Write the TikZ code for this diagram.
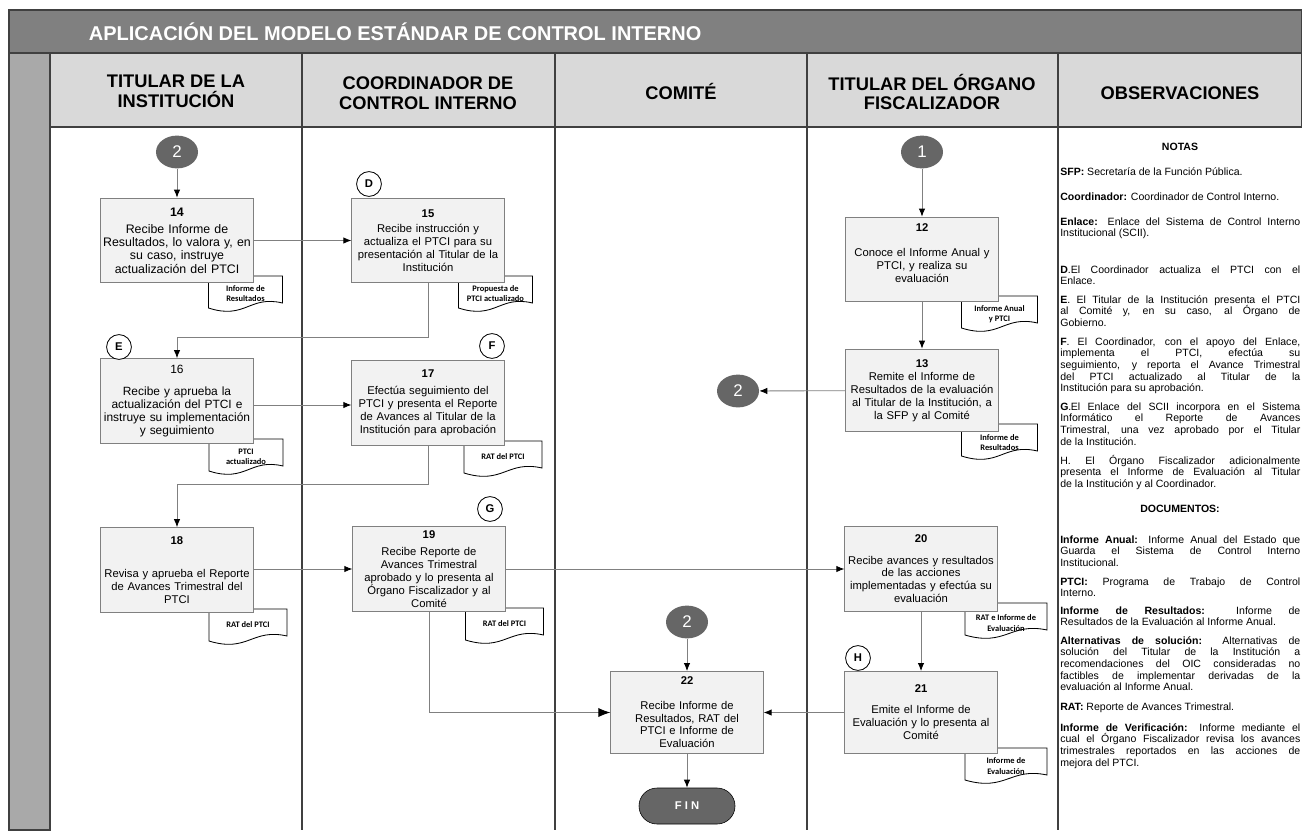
\documentclass[tikz,border=0pt]{standalone}
\usepackage{fontspec}
\setmainfont{Liberation Sans}
\newfontfamily\docfont{Carlito}
\usepackage{tikz}
\usetikzlibrary{arrows.meta,shapes.geometric,positioning,calc}

\definecolor{barGray}{HTML}{808080}
\definecolor{headGray}{HTML}{D9D9D9}
\definecolor{stripGray}{HTML}{A9A9A9}
\definecolor{boxGray}{HTML}{F2F2F2}
\definecolor{lineGray}{HTML}{808080}
\definecolor{darkGray}{HTML}{666666}
\definecolor{ruleGray}{HTML}{404040}

\tikzset{
  proc/.style={draw=lineGray, fill=boxGray, line width=0.6pt, minimum width=3.8cm, minimum height=2.12cm, text width=3.74cm, align=center, inner sep=1pt, font=\fontsize{8}{9.2}\selectfont},
  conn/.style={ellipse, fill=darkGray, text=white, minimum width=1.05cm, minimum height=0.82cm, inner sep=0pt, font=\fontsize{12}{12}\selectfont},
  letra/.style={circle, draw=black, fill=white, line width=0.6pt, minimum size=0.62cm, inner sep=0pt, font=\bfseries\fontsize{8}{8}\selectfont},
  doctxt/.style={align=center, inner sep=0pt, font=\docfont\bfseries\fontsize{6}{7.2}\selectfont},
  docline/.style={draw=black, fill=white, line width=0.6pt},
  flow/.style={draw=lineGray, line width=0.6pt, -{Latex[color=black,length=2mm,width=1.6mm]}},
  bigflow/.style={draw=lineGray, line width=0.6pt, -{Latex[color=black,length=3mm,width=2.3mm]}},
  note/.style={anchor=base west, text width=6cm, align=justify, inner sep=0pt, font=\fontsize{7.5}{8.3}\selectfont},
  colhead/.style={align=center, font=\bfseries\fontsize{13}{14}\selectfont},
  terminal/.style={draw=black, fill=darkGray, text=white, rounded corners=0.45cm, minimum width=2.4cm, minimum height=0.9cm, font=\bfseries\fontsize{8}{8}\selectfont}
}

\begin{document}
\begin{tikzpicture}[x=0.025cm, y=-0.025cm]

\useasboundingbox (0,0) rectangle (1302,830);

% frame and lanes
\draw[draw=ruleGray, fill=barGray, line width=0.8pt] (9,10) rectangle (1302,53);
\draw[draw=ruleGray, fill=headGray, line width=0.8pt] (50,53) rectangle (1302,127);
\draw[draw=ruleGray, fill=stripGray, line width=0.8pt] (9,53) rectangle (50,830);
\foreach \x in {302,555,807,1058}
  \draw[ruleGray, line width=0.9pt] (\x,53) -- (\x,830);

\node[anchor=west, text=white, font=\bfseries\fontsize{14.2}{14.2}\selectfont] (titulo) at (84,32) {APLICACIÓN DEL MODELO ESTÁNDAR DE CONTROL INTERNO};

\node[colhead] (h1) at (176,91) {TITULAR DE LA\\INSTITUCIÓN};
\node[colhead] (h2) at (428,93) {COORDINADOR DE\\CONTROL INTERNO};
\node[colhead] (h3) at (681,91) {COMITÉ};
\node[colhead] (h4) at (932,92) {TITULAR DEL ÓRGANO\\FISCALIZADOR};
\node[colhead] (h5) at (1180,93) {OBSERVACIONES};

% documents (drawn first, the boxes sit on top of them)
\foreach \nm/\cx/\ty/\w/\dy/\txt in {
  d14/245.5/276/74/18/{Informe de\\Resultados},
  d15/495.5/276/74/18/{Propuesta de\\PTCI actualizado},
  d16/246/439/74/18/{PTCI\\actualizado},
  d17/503/441/78/16/{RAT del PTCI},
  d18/248/609/78/16/{RAT del PTCI},
  d19/504.5/608/78/16/{RAT del PTCI},
  d12/999.5/296/76/18/{Informe Anual\\y PTCI},
  d13/999.5/424/76/18.5/{Informe de\\Resultados},
  d20/1006/603/82/20/{RAT e Informe de\\Evaluación},
  d21/1006/748/82/18/{Informe de\\Evaluación}}{
  \draw[docline] (\cx-\w/2,\ty) -- (\cx+\w/2,\ty) -- (\cx+\w/2,\ty+27)
    .. controls +(-0.45*\w,-8) and +(0.5*\w,12) .. (\cx-\w/2,\ty+32) -- cycle;
  \node[doctxt] (\nm) at (\cx,\ty+\dy) {\txt};
}

% activities
\node[proc, font=\fontsize{8.8}{9.5}\selectfont] (b14) at (177,240.5) {\textbf{14}\\[2.5pt]Recibe Informe de\\Resultados, lo valora y, en\\su caso, instruye\\actualización del PTCI};
\node[proc] (b15) at (428,240.5) {\textbf{15}\\[1.5pt]Recibe instrucción y\\actualiza el PTCI para su\\presentación al Titular de la\\Institución};
\node[proc, font=\fontsize{8.5}{9.3}\selectfont] (b16) at (177,401) {16\\[6.5pt]Recibe y aprueba la\\actualización del PTCI e\\instruye su implementación\\y seguimiento};
\node[proc] (b17) at (428,403) {\textbf{17}\\[3pt]Efectúa seguimiento del\\PTCI y presenta el Reporte\\de Avances al Titular de la\\Institución para aprobación};
\node[proc] (b18) at (177,570) {\textbf{18}\\[14pt]Revisa y aprueba el Reporte\\de Avances Trimestral del\\PTCI};
\node[proc] (b19) at (429,569) {\textbf{19}\\[3pt]Recibe Reporte de\\Avances Trimestral\\aprobado y lo presenta al\\Órgano Fiscalizador y al\\Comité};
\node[proc] (b12) at (922,259.5) {\textbf{12}\\[9pt]Conoce el Informe Anual y\\PTCI, y realiza su\\evaluación\\\mbox{}};
\node[proc, minimum height=2.07cm] (b13) at (922,390.5) {\textbf{13}\\Remite el Informe de\\Resultados de la evaluación\\al Titular de la Institución, a\\la SFP y al Comité};
\node[proc] (b20) at (921,569) {\textbf{20}\\[5.8pt]Recibe avances y resultados\\de las acciones\\implementadas y efectúa su\\evaluación};
\node[proc, minimum height=2.05cm] (b21) at (921,712.5) {\textbf{21}\\[5.8pt]Emite el Informe de\\Evaluación y lo presenta al\\Comité};
\node[proc, minimum height=2.05cm] (b22) at (687,712.5) {\textbf{22}\\[8pt]Recibe Informe de\\Resultados, RAT del\\PTCI e Informe de\\Evaluación};

% connectors and marks
\node[conn] (c2a) at (177,152) {2};
\node[conn] (c1) at (922,152) {1};
\node[conn] (c2b) at (738,391) {2};
\node[conn] (c2c) at (687,622) {2};
\node[terminal] (fin) at (687,806) {F I N};

\node[letra] (mD) at (369,184) {D};
\node[letra] (mE) at (119,347) {E};
\node[letra] (mF) at (492,346) {F};
\node[letra] (mG) at (490,509) {G};
\node[letra] (mH) at (858,658) {H};

\draw[flow] (c2a) -- (b14);
\draw[flow] (b14) -- (b15);
\draw[flow] (b15.south) -- ++(0,54) -| (b16.north);
\draw[flow] (b16.east |- 0,405) -- (b17.west |- 0,405);
\draw[flow] (b17.south) -- ++(0,39) -| (b18.north);
\draw[flow] (b18.east |- 0,569) -- (b19.west |- 0,569);
\draw[flow] (b19) -- (b20);
\draw[bigflow] (b19.south) |- (b22.west);
\draw[flow] (c1) -- (b12);
\draw[flow] (b12) -- (b13);
\draw[flow] (b13) -- (c2b);
\draw[flow] (b20) -- (b21);
\draw[flow] (b21) -- (b22);
\draw[flow] (c2c) -- (b22);
\draw[flow] (b22) -- (fin);

% notes
\node[font=\bfseries\fontsize{7.5}{8.3}\selectfont] (notas) at (1180,147) {NOTAS};
\node[note] (n1) at (1060,175) {\textbf{SFP:} Secretaría de la Función Pública.};
\node[note] (n2) at (1060,200) {\textbf{Coordinador:} Coordinador de Control Interno.};
\node[note] (n3) at (1060,225) {\textbf{Enlace:} Enlace del Sistema de Control Interno\linebreak Institucional (SCII).};
\node[note] (n4) at (1060,273) {\hangindent=7.5pt\hangafter=1\makebox[7.5pt][l]{\textbf{D}.}El Coordinador actualiza el PTCI con el\linebreak Enlace.};
\node[note] (n5) at (1060,303) {\hangindent=7.5pt\hangafter=1\textbf{E}. El Titular de la Institución presenta el PTCI\linebreak al Comité y, en su caso, al Órgano de\linebreak Gobierno.};
\node[note] (n6) at (1060,345) {\hangindent=7.5pt\hangafter=1\textbf{F}. El Coordinador, con el apoyo del Enlace,\linebreak implementa el PTCI, efectúa su\linebreak seguimiento, y reporta el Avance Trimestral\linebreak del PTCI actualizado al Titular de la\linebreak Institución para su aprobación.};
\node[note] (n7) at (1060,410) {\hangindent=7.5pt\hangafter=1\makebox[7.5pt][l]{\textbf{G}.}El Enlace del SCII incorpora en el Sistema\linebreak Informático el Reporte de Avances\linebreak Trimestral, una vez aprobado por el Titular\linebreak de la Institución.};
\node[note] (n8) at (1060,464) {\hangindent=7.5pt\hangafter=1 H. El Órgano Fiscalizador adicionalmente\linebreak presenta el Informe de Evaluación al Titular\linebreak de la Institución y al Coordinador.};
\node[font=\bfseries\fontsize{7.5}{8.3}\selectfont] (docs) at (1180,509) {DOCUMENTOS:};
\node[note] (n9) at (1060,543) {\textbf{Informe Anual:} Informe Anual del Estado que\linebreak Guarda el Sistema de Control Interno\linebreak Institucional.};
\node[note] (n10) at (1060,585) {\textbf{PTCI:} Programa de Trabajo de Control\linebreak Interno.};
\node[note] (n11) at (1060,614) {\textbf{Informe de Resultados:} Informe de\linebreak Resultados de la Evaluación al Informe Anual.};
\node[note] (n12) at (1060,644) {\textbf{Alternativas de solución:} Alternativas de\linebreak solución del Titular de la Institución a\linebreak recomendaciones del OIC consideradas no\linebreak factibles de implementar derivadas de la\linebreak evaluación al Informe Anual.};
\node[note] (n13) at (1060,710) {\textbf{RAT:} Reporte de Avances Trimestral.};
\node[note] (n14) at (1060,731) {\textbf{Informe de Verificación:} Informe mediante el\linebreak cual el Órgano Fiscalizador revisa los avances\linebreak trimestrales reportados en las acciones de\linebreak mejora del PTCI.};

\end{tikzpicture}
\end{document}
